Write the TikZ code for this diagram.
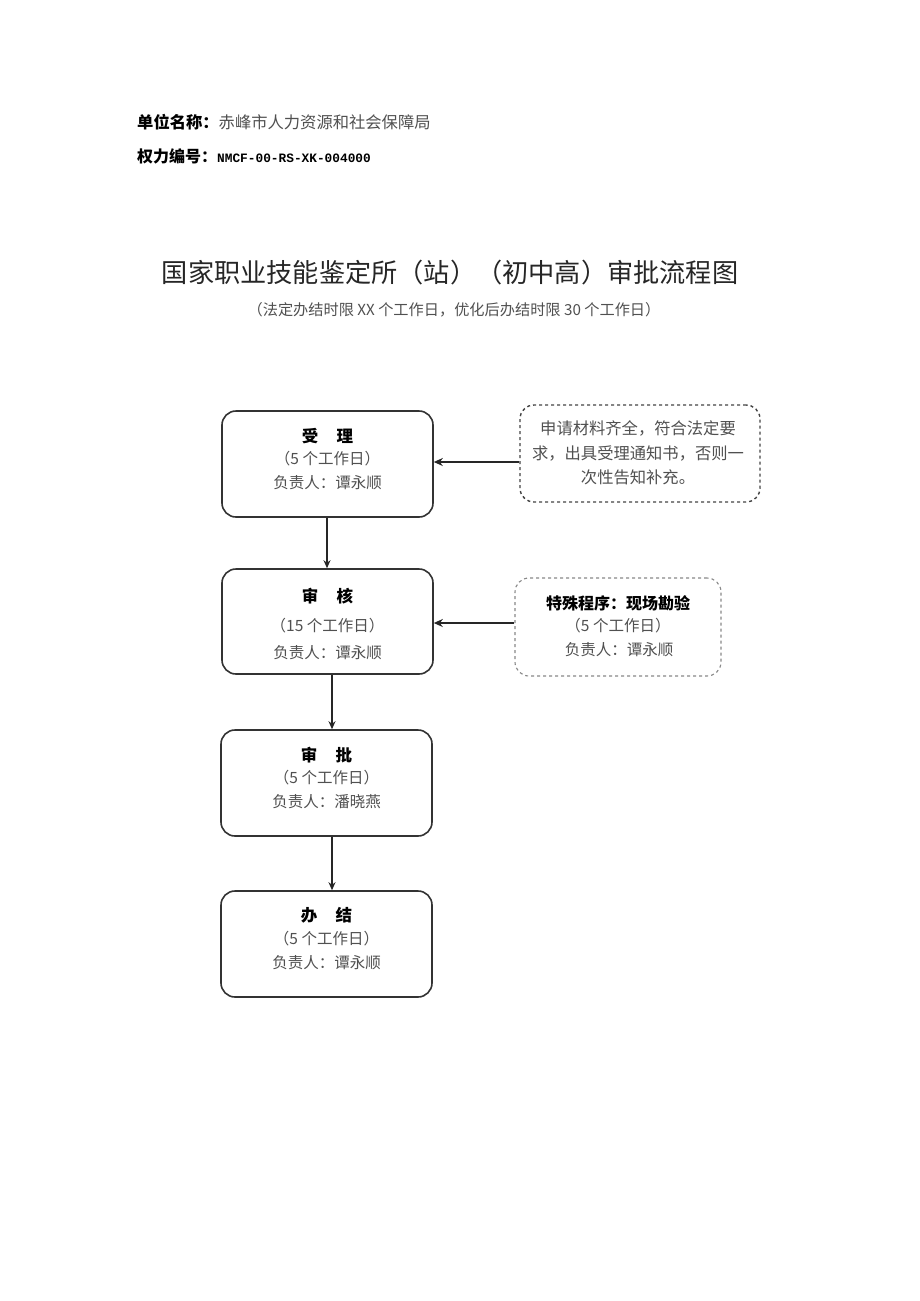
\documentclass[tikz,border=0pt]{standalone}
\usepackage{fontspec}
\setmainfont{Noto Sans CJK SC}
\newfontfamily\monof{Liberation Mono}
\usetikzlibrary{arrows.meta}
\definecolor{txtgray}{HTML}{505050}
\definecolor{boxline}{HTML}{333333}
\definecolor{dashdark}{HTML}{444444}
\definecolor{dashlight}{HTML}{888888}
\tikzset{
  x=1pt, y=-1pt,
  stagebox/.style={draw=boxline, line width=1.6pt, rounded corners=14pt, minimum width=211pt, minimum height=106pt},
  notebox/.style={draw=dashdark, line width=1.4pt, dashed, rounded corners=14pt},
  notelight/.style={draw=dashlight, line width=1.1pt, dashed, rounded corners=14pt},
  flow/.style={-{Stealth[length=8pt,width=7pt]}, line width=1.1pt, draw=black!85},
  sideflow/.style={flow, line width=1.6pt, -{Stealth[length=9pt,width=8pt]}},
  hd/.style={font=\fontsize{16.5}{18}\selectfont\bfseries, text=black},
  ln/.style={font=\fontsize{15.5}{18}\selectfont, text=txtgray},
}
\begin{document}
\begin{tikzpicture}
\useasboundingbox (0,0) rectangle (920,1301);
\fill[white] (0,0) rectangle (920,1301);
% header
\node[anchor=west, inner sep=0, font=\fontsize{16.3}{18}\selectfont] (unit) at (137,122) {\textbf{单位名称：}\textcolor{txtgray}{赤峰市人力资源和社会保障局}};
\node[anchor=west, inner sep=0, font=\fontsize{16}{18}\selectfont] (code) at (137,156) {\textbf{权力编号：}{\monof\bfseries\fontsize{12.8}{15}\selectfont NMCF-00-RS-XK-004000}};
\node[inner sep=0, font=\fontsize{26.2}{30}\selectfont, text=black!85] (title) at (450,273) {国家职业技能鉴定所（站）（初中高）审批流程图};
\node[inner sep=0, font=\fontsize{15.2}{18}\selectfont, text=txtgray] (sub) at (454,310) {（法定办结时限 XX 个工作日，优化后办结时限 30 个工作日）};
% stage boxes
\node[stagebox] (s1) at (327.5,464) {};
\node[hd] (s1h) at (327.5,436) {受\hspace{1.1em}理};
\node[ln] (s1d) at (327.5,459) {（5 个工作日）};
\node[ln] (s1p) at (327.5,483) {负责人：谭永顺};
\node[stagebox, minimum height=105pt] (s2) at (327.5,621.5) {};
\node[hd] (s2h) at (327.5,596) {审\hspace{1.1em}核};
\node[ln] (s2d) at (327.5,626) {（15 个工作日）};
\node[ln] (s2p) at (327.5,653) {负责人：谭永顺};
\node[stagebox] (s3) at (326.5,783) {};
\node[hd] (s3h) at (326.5,755) {审\hspace{1.1em}批};
\node[ln] (s3d) at (326.5,778) {（5 个工作日）};
\node[ln] (s3p) at (326.5,802) {负责人：潘晓燕};
\node[stagebox] (s4) at (326.5,944) {};
\node[hd] (s4h) at (326.5,915) {办\hspace{1.1em}结};
\node[ln] (s4d) at (326.5,939) {（5 个工作日）};
\node[ln] (s4p) at (326.5,963) {负责人：谭永顺};
% note boxes
\node[notebox, minimum width=240pt, minimum height=97pt] (n1) at (640,453.5) {};
\node[ln, align=center, font=\fontsize{16.3}{24.5}\selectfont] (n1t) at (638,453) {申请材料齐全，符合法定要\\求，出具受理通知书，否则一\\次性告知补充。};
\node[notelight, minimum width=206pt, minimum height=98pt] (n2) at (618,627) {};
\node[font=\fontsize{16}{18}\selectfont\bfseries, text=black] (n2h) at (618,603) {特殊程序：现场勘验};
\node[ln] (n2d) at (618,626) {（5 个工作日）};
\node[ln] (n2p) at (619,650) {负责人：谭永顺};
% connectors
\draw[flow] ([xshift=-0.5pt]s1.south) -- ([xshift=-0.5pt]s2.north);
\draw[flow] ([xshift=4.5pt]s2.south) -- ([xshift=5.5pt]s3.north);
\draw[flow] ([xshift=5.5pt]s3.south) -- ([xshift=5.5pt]s4.north);
\draw[sideflow] (n1.west |- 0,462) -- (s1.east |- 0,462);
\draw[sideflow] (n2.west |- 0,623) -- (s2.east |- 0,623);
\end{tikzpicture}
\end{document}
